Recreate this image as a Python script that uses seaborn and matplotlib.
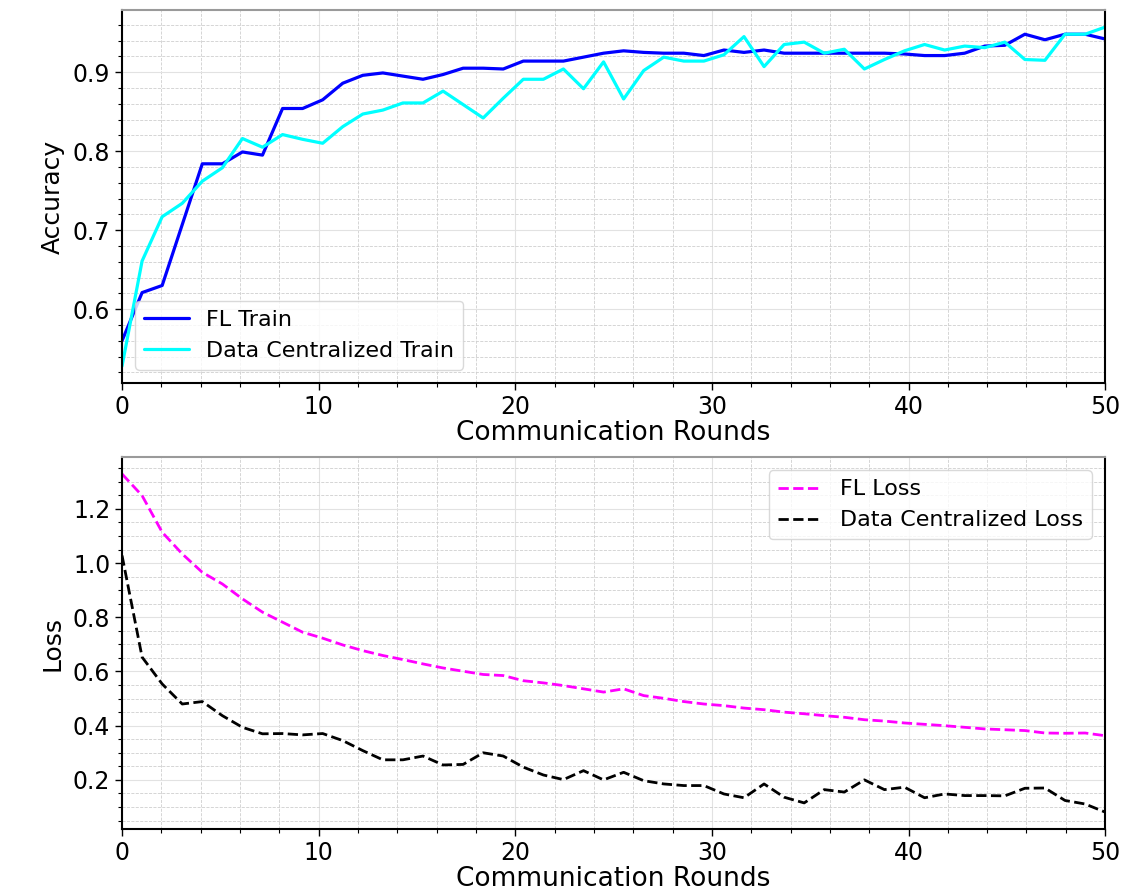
import numpy as np
import pandas as pd
import matplotlib
matplotlib.use("Agg")
import matplotlib.pyplot as plt
import seaborn as sns

# Per-round metrics (50 evaluation points spread over 50 communication rounds)
fl_train = [0.560, 0.621, 0.630, 0.707, 0.784, 0.784, 0.799, 0.795, 0.854, 0.854,
            0.865, 0.886, 0.896, 0.899, 0.895, 0.891, 0.897, 0.905, 0.905, 0.904,
            0.914, 0.914, 0.914, 0.919, 0.924, 0.927, 0.925, 0.924, 0.924, 0.921,
            0.928, 0.925, 0.928, 0.924, 0.924, 0.924, 0.924, 0.924, 0.924, 0.923,
            0.921, 0.921, 0.924, 0.933, 0.934, 0.948, 0.941, 0.948, 0.948, 0.942]
dc_train = [0.528, 0.661, 0.717, 0.734, 0.762, 0.779, 0.816, 0.805, 0.821, 0.815,
            0.810, 0.831, 0.847, 0.852, 0.861, 0.861, 0.876, 0.859, 0.842, 0.867,
            0.891, 0.891, 0.904, 0.879, 0.913, 0.866, 0.902, 0.919, 0.914, 0.914,
            0.922, 0.945, 0.907, 0.935, 0.938, 0.924, 0.929, 0.904, 0.916, 0.927,
            0.935, 0.928, 0.933, 0.931, 0.938, 0.916, 0.915, 0.948, 0.948, 0.957]
fl_loss = [1.329, 1.249, 1.114, 1.034, 0.966, 0.923, 0.868, 0.819, 0.782, 0.745,
           0.723, 0.698, 0.677, 0.659, 0.644, 0.628, 0.613, 0.601, 0.589, 0.585,
           0.566, 0.558, 0.548, 0.536, 0.524, 0.536, 0.511, 0.501, 0.489, 0.480,
           0.474, 0.465, 0.459, 0.450, 0.444, 0.437, 0.431, 0.422, 0.417, 0.410,
           0.405, 0.400, 0.394, 0.388, 0.385, 0.382, 0.373, 0.372, 0.373, 0.363]
dc_loss = [1.028, 0.653, 0.554, 0.480, 0.489, 0.437, 0.394, 0.370, 0.371, 0.366,
           0.371, 0.345, 0.308, 0.274, 0.274, 0.288, 0.255, 0.257, 0.300, 0.288,
           0.247, 0.218, 0.201, 0.234, 0.200, 0.228, 0.197, 0.185, 0.179, 0.179,
           0.148, 0.134, 0.185, 0.136, 0.115, 0.164, 0.155, 0.200, 0.164, 0.173,
           0.134, 0.148, 0.142, 0.142, 0.141, 0.169, 0.170, 0.124, 0.111, 0.081]

rounds = np.linspace(0, 50, len(fl_train))
x_ticks = [0, 10, 20, 30, 40, 50]

sns.set_style("whitegrid")
plt.rcParams["font.family"] = ["DejaVu Sans"]
plt.rcParams["text.color"] = "black"
plt.rcParams["axes.labelcolor"] = "black"
plt.rcParams["xtick.color"] = "black"
plt.rcParams["ytick.color"] = "black"

fig = plt.figure(figsize=(11.3, 8.92), dpi=100)
ax_acc = fig.add_axes([0.108, 0.5706, 0.870, 0.418])
ax_loss = fig.add_axes([0.108, 0.0706, 0.870, 0.417])

sns.lineplot(x=rounds, y=fl_train, ax=ax_acc, color="blue", lw=2.3, label="FL Train")
sns.lineplot(x=rounds, y=dc_train, ax=ax_acc, color="cyan", lw=2.3,
             label="Data Centralized Train")

sns.lineplot(x=rounds, y=fl_loss, ax=ax_loss, color="magenta", lw=2.0,
             linestyle="--", label="FL Loss")
sns.lineplot(x=rounds, y=dc_loss, ax=ax_loss, color="black", lw=2.0,
             linestyle="--", label="Data Centralized Loss")

for ax, ylab in ((ax_acc, "Accuracy"), (ax_loss, "Loss")):
    ax.set_xlim(0, 50)
    ax.set_xticks(x_ticks)
    ax.minorticks_on()
    ax.grid(which="major", color="#e2e2e2", linestyle="-", linewidth=0.8)
    ax.grid(which="minor", color="#cfcfcf", linestyle="--", linewidth=0.6)
    ax.set_axisbelow(True)
    ax.tick_params(axis="both", which="major", direction="out", length=5,
                   width=1, labelsize=17, left=True, bottom=True,
                   color="black", labelcolor="black")
    ax.tick_params(axis="both", which="minor", direction="out", length=3,
                   width=0.8, left=True, bottom=True, color="black")
    ax.set_xlabel("Communication Rounds", fontsize=19, labelpad=1, color="black")
    ax.set_ylabel(ylab, fontsize=18, labelpad=6, color="black")
    for side in ("left", "bottom", "right"):
        ax.spines[side].set_color("black")
        ax.spines[side].set_linewidth(1.5)
    ax.spines["top"].set_color("#9a9a9a")
    ax.spines["top"].set_linewidth(1.5)

for ax, loc in ((ax_acc, "lower left"), (ax_loss, "upper right")):
    leg = ax.legend(loc=loc, fontsize=16, frameon=True, framealpha=0.8,
                    edgecolor="#d0d0d0", borderaxespad=0.6)
    for txt in leg.get_texts():
        txt.set_color("black")

fig.savefig("out.png", dpi=100)
